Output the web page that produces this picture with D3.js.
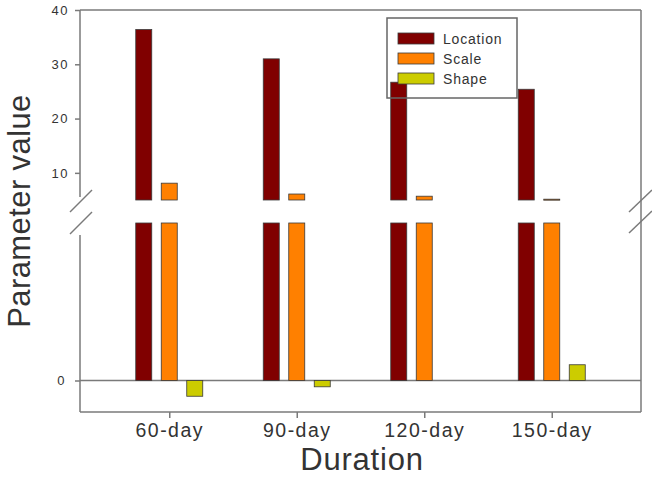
<!DOCTYPE html>
<html>
<head>
<meta charset="utf-8">
<script src="https://cdn.jsdelivr.net/npm/d3@7"></script>
<style>
  body { margin: 0; background: #fff; }
  svg text { font-family: "Liberation Sans", Arial, sans-serif; fill: #333; }
</style>
</head>
<body>
<div id="chart-area"></div>
<script>
// data
const durations = ["60-day", "90-day", "120-day", "150-day"]
const seriesNames = ["Location", "Scale", "Shape"]
const locationValues = [36.4, 31.0, 26.7, 25.4]
const scaleValues = [8.1, 6.1, 5.7, 5.15]
const shapeValues = [-0.1, -0.04, 0, 0.1]
const upperTicks = [10, 20, 30, 40]
const lowerTicks = [0]

const COLORS = ["#800000", "#ff8000", "#cccc00"]
const AXIS = "#7a7a7a"

const W = 652, H = 486
const LEFT = 80, RIGHT = 641
const UP_TOP = 10, UP_BOT = 200
const LOW_TOP = 223, LOW_BOT = 412

const svg = d3.select("#chart-area").append("svg")
  .attr("width", W)
  .attr("height", H)

// scales
const x = d3.scalePoint()
  .domain(durations)
  .range([LEFT, RIGHT])
  .padding(0.7)

const yU = d3.scaleLinear().domain([5, 40]).range([UP_BOT, UP_TOP]).clamp(true)
const yL = d3.scaleLinear().domain([-0.2, 1.0]).range([LOW_BOT, LOW_TOP]).clamp(true)

const BAR_W = 16
const OFFSET = 25.5

// one row per bar
const rows = []
durations.forEach((d, i) => {
  const vals = [locationValues[i], scaleValues[i], shapeValues[i]]
  vals.forEach((v, s) => rows.push({ dur: d, s: s, v: v }))
})
const barX = r => x(r.dur) + (r.s - 1) * OFFSET - BAR_W / 2

// frame lines
const frame = svg.append("g")
  .attr("stroke", AXIS)
  .attr("stroke-width", 1.5)
  .attr("fill", "none")
const seg = (x1, y1, x2, y2) => frame.append("line")
  .attr("x1", x1).attr("y1", y1).attr("x2", x2).attr("y2", y2)
seg(LEFT, UP_TOP, RIGHT, UP_TOP)      // top
seg(LEFT, UP_TOP, LEFT, 197)          // left upper
seg(LEFT, 235, LEFT, LOW_BOT)         // left lower
seg(RIGHT, UP_TOP, RIGHT, LOW_BOT)    // right
seg(LEFT, LOW_BOT, RIGHT, LOW_BOT)    // bottom
seg(LEFT, yL(0), RIGHT, yL(0))        // zero line
// break marks
seg(70, 212, 92, 190)
seg(70, 234, 92, 212)
seg(629, 212, 652, 190)
seg(629, 233, 652, 211)

// upper panel bars
svg.append("g").selectAll("rect")
  .data(rows.filter(r => r.v > 5))
  .enter().append("rect")
  .attr("x", barX)
  .attr("y", r => yU(r.v))
  .attr("width", BAR_W)
  .attr("height", r => Math.max(1, UP_BOT - yU(r.v)))
  .attr("fill", r => COLORS[r.s])
  .attr("stroke", "#3a3a3a")
  .attr("stroke-width", 0.8)

// lower panel bars
svg.append("g").selectAll("rect")
  .data(rows.filter(r => r.v !== 0))
  .enter().append("rect")
  .attr("x", barX)
  .attr("y", r => Math.min(yL(r.v), yL(0)))
  .attr("width", BAR_W)
  .attr("height", r => Math.abs(yL(0) - yL(r.v)))
  .attr("fill", r => COLORS[r.s])
  .attr("stroke", "#3a3a3a")
  .attr("stroke-width", 0.8)

// y axes (ticks only, frame drawn above)
const styleAxis = g => {
  g.select(".domain").remove()
  g.selectAll("line").attr("stroke", AXIS).attr("stroke-width", 1.5)
  g.selectAll("text")
    .attr("fill", "#444")
    .style("font-size", "13px")
    .style("letter-spacing", "1.5px")
}
svg.append("g")
  .attr("transform", `translate(${LEFT},0)`)
  .call(d3.axisLeft(yU).tickValues(upperTicks).tickSize(5).tickPadding(6).tickFormat(d3.format("d")))
  .call(styleAxis)
svg.append("g")
  .attr("transform", `translate(${LEFT},0)`)
  .call(d3.axisLeft(yL).tickValues(lowerTicks).tickSize(5).tickPadding(9).tickFormat(d3.format("d")))
  .call(styleAxis)

// x axis
svg.append("g")
  .attr("transform", `translate(0,${LOW_BOT})`)
  .call(d3.axisBottom(x).tickSize(6).tickPadding(5))
  .call(g => {
    g.select(".domain").remove()
    g.selectAll("line").attr("stroke", AXIS).attr("stroke-width", 1.5)
    g.selectAll("text")
      .attr("fill", "#333")
      .style("font-size", "19.5px")
      .style("letter-spacing", "1.5px")
  })

// axis titles
svg.append("text")
  .attr("x", 362)
  .attr("y", 470)
  .attr("text-anchor", "middle")
  .style("font-size", "31px")
  .style("letter-spacing", "0.8px")
  .text("Duration")

svg.append("text")
  .attr("transform", "translate(30,211) rotate(-90)")
  .attr("text-anchor", "middle")
  .style("font-size", "31px")
  .style("letter-spacing", "0.4px")
  .text("Parameter value")

// legend
const legend = svg.append("g")
legend.append("rect")
  .attr("x", 387).attr("y", 18)
  .attr("width", 130).attr("height", 80)
  .attr("fill", "none")
  .attr("stroke", "#666")
  .attr("stroke-width", 1.5)
seriesNames.forEach((name, i) => {
  const yy = 33 + i * 20
  legend.append("rect")
    .attr("x", 398).attr("y", yy)
    .attr("width", 36).attr("height", 11)
    .attr("fill", COLORS[i])
    .attr("stroke", "#3a3a3a")
    .attr("stroke-width", 0.8)
  legend.append("text")
    .attr("x", 443)
    .attr("y", yy + 11)
    .attr("fill", "#444")
    .style("font-size", "14px")
    .style("letter-spacing", "0.8px")
    .text(name)
})
</script>
</body>
</html>
